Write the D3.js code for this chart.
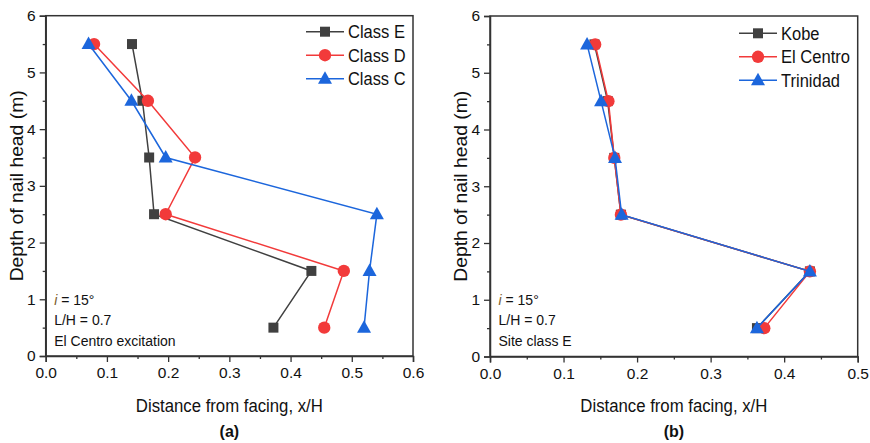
<!DOCTYPE html>
<html>
<head>
<meta charset="utf-8">
<script src="https://cdn.jsdelivr.net/npm/d3@7"></script>
<style>
  html, body { margin: 0; padding: 0; background: #ffffff; }
  svg { display: block; font-family: Arial, "Liberation Sans", sans-serif; }
</style>
</head>
<body>
<svg id="chart" width="870" height="443"></svg>
<script>
// Nail-head depths (m) shared by every series
const depths = [5.5, 4.5, 3.5, 2.5, 1.5, 0.5];

// Panel (a): El Centro excitation, by site class
const classE = [0.141, 0.158, 0.169, 0.177, 0.434, 0.372];
const classD = [0.079, 0.167, 0.244, 0.196, 0.487, 0.455];
const classC = [0.070, 0.140, 0.196, 0.541, 0.529, 0.520];

// Panel (b): site class E, by ground motion
const kobe     = [0.142, 0.160, 0.169, 0.178, 0.435, 0.363];
const elCentro = [0.143, 0.161, 0.169, 0.178, 0.435, 0.373];
const trinidad = [0.132, 0.151, 0.170, 0.179, 0.435, 0.363];

const xTicksA = [0, 0.1, 0.2, 0.3, 0.4, 0.5, 0.6];
const xTicksB = [0, 0.1, 0.2, 0.3, 0.4, 0.5];
const yTicks = [0, 1, 2, 3, 4, 5, 6];

const COLORS = { black: "#404040", red: "#f23a3a", blue: "#1c66dc" };

const svg = d3.select("#chart");

function drawPanel(cfg) {
  const x = d3.scaleLinear().domain(cfg.xDomain).range([cfg.left, cfg.right]);
  const y = d3.scaleLinear().domain([0, 6]).range([cfg.bottom, cfg.top]);
  const g = svg.append("g");

  // frame
  g.append("rect")
    .attr("x", cfg.left).attr("y", cfg.top)
    .attr("width", cfg.right - cfg.left).attr("height", cfg.bottom - cfg.top)
    .attr("fill", "#ffffff").attr("stroke", "#333").attr("stroke-width", 1.5);

  // minor ticks
  const xMinor = d3.range(cfg.xDomain[0] + 0.05, cfg.xDomain[1], 0.1);
  const yMinor = d3.range(0.5, 6, 1);
  const xAxisMinor = d3.axisBottom(x).tickValues(xMinor).tickSize(3).tickFormat("");
  const yAxisMinor = d3.axisLeft(y).tickValues(yMinor).tickSize(3).tickFormat("");
  g.append("g").attr("transform", `translate(0,${cfg.bottom})`).call(xAxisMinor)
    .call(s => s.select(".domain").remove());
  g.append("g").attr("transform", `translate(${cfg.left},0)`).call(yAxisMinor)
    .call(s => s.select(".domain").remove());

  // major axes
  const xAxis = d3.axisBottom(x).tickValues(cfg.xTicks).tickSize(6).tickPadding(5)
    .tickFormat(d3.format(".1f"));
  const yAxis = d3.axisLeft(y).tickValues(yTicks).tickSize(6).tickPadding(4)
    .tickFormat(d3.format("d"));
  const gx = g.append("g").attr("transform", `translate(0,${cfg.bottom})`).call(xAxis);
  const gy = g.append("g").attr("transform", `translate(${cfg.left},0)`).call(yAxis);
  [gx, gy].forEach(a => {
    a.select(".domain").attr("stroke", "#333").attr("stroke-width", 1.5);
    a.selectAll(".tick text").attr("font-size", 15.5).attr("fill", "#111")
      .attr("font-family", "Arial, 'Liberation Sans', sans-serif");
  });
  g.selectAll(".tick line").attr("stroke", "#333").attr("stroke-width", 1.3);

  // axis titles
  const midX = (cfg.left + cfg.right) / 2;
  g.append("text").attr("x", midX).attr("y", 412)
    .attr("text-anchor", "middle").attr("font-size", 17.5).attr("fill", "#111")
    .attr("textLength", 187).attr("lengthAdjust", "spacingAndGlyphs")
    .text("Distance from facing, x/H");
  g.append("text").attr("x", midX).attr("y", 437)
    .attr("text-anchor", "middle").attr("font-size", 16).attr("font-weight", "bold")
    .attr("fill", "#111").text(cfg.label);
  g.append("text")
    .attr("transform", `translate(${cfg.left - 23},${(cfg.top + cfg.bottom) / 2}) rotate(-90)`)
    .attr("text-anchor", "middle").attr("font-size", 17.5).attr("fill", "#111")
    .attr("textLength", 191).attr("lengthAdjust", "spacingAndGlyphs")
    .text("Depth of nail head (m)");

  // annotation block
  const ann = g.append("text").attr("font-size", 14).attr("fill", "#111");
  cfg.notes.forEach((line, i) => {
    const t = ann.append("tspan").attr("x", cfg.left + 8.5).attr("y", 305 + i * 20.3);
    if (i === 0) {
      t.append("tspan").attr("font-style", "italic").attr("fill", "#7a5c2a").text("i");
      t.append("tspan").text(line.slice(1));
    } else {
      t.text(line);
    }
  });

  // series
  const line = d3.line().x(d => x(d[0])).y(d => y(d[1]));
  cfg.series.forEach(s => {
    const pts = s.values.map((v, i) => [v, depths[i]]);
    g.append("path").datum(pts).attr("d", line)
      .attr("fill", "none").attr("stroke", s.color).attr("stroke-width", 1.5);
    g.selectAll(null).data(pts).enter().append("path")
      .attr("transform", d => `translate(${x(d[0])},${y(d[1])})`)
      .attr("d", markerPath(s.shape)).attr("fill", s.color);
  });

  // legend
  cfg.series.forEach((s, i) => {
    const ly = cfg.legendY + i * 23.5;
    g.append("line").attr("x1", cfg.legendX).attr("x2", cfg.legendX + 38)
      .attr("y1", ly).attr("y2", ly).attr("stroke", s.color).attr("stroke-width", 1.5);
    g.append("path").attr("transform", `translate(${cfg.legendX + 19},${ly})`)
      .attr("d", markerPath(s.shape)).attr("fill", s.color);
    g.append("text").attr("x", cfg.legendX + 42).attr("y", ly + 6.5)
      .attr("font-size", 17.5).attr("fill", "#111")
      .attr("textLength", s.width).attr("lengthAdjust", "spacingAndGlyphs")
      .text(s.name);
  });
}

function markerPath(shape) {
  if (shape === "square") return d3.symbol(d3.symbolSquare, 100)();
  if (shape === "circle") return d3.symbol(d3.symbolCircle, 120)();
  return "M0,-7.5L7,5L-7,5Z";
}

drawPanel({
  left: 45.7, right: 413, top: 15.7, bottom: 356,
  xDomain: [0, 0.6], xTicks: xTicksA, label: "(a)",
  notes: ["i = 15°", "L/H = 0.7", "El Centro excitation"],
  legendX: 306, legendY: 31.7,
  series: [
    { name: "Class E", values: classE, color: COLORS.black, shape: "square", width: 57 },
    { name: "Class D", values: classD, color: COLORS.red, shape: "circle", width: 57.5 },
    { name: "Class C", values: classC, color: COLORS.blue, shape: "triangle", width: 57.5 }
  ]
});

drawPanel({
  left: 490, right: 857.7, top: 16, bottom: 356.5,
  xDomain: [0, 0.5], xTicks: xTicksB, label: "(b)",
  notes: ["i = 15°", "L/H = 0.7", "Site class E"],
  legendX: 739, legendY: 33.3,
  series: [
    { name: "Kobe", values: kobe, color: COLORS.black, shape: "square", width: 38.5 },
    { name: "El Centro", values: elCentro, color: COLORS.red, shape: "circle", width: 69 },
    { name: "Trinidad", values: trinidad, color: COLORS.blue, shape: "triangle", width: 59 }
  ]
});
</script>
</body>
</html>
